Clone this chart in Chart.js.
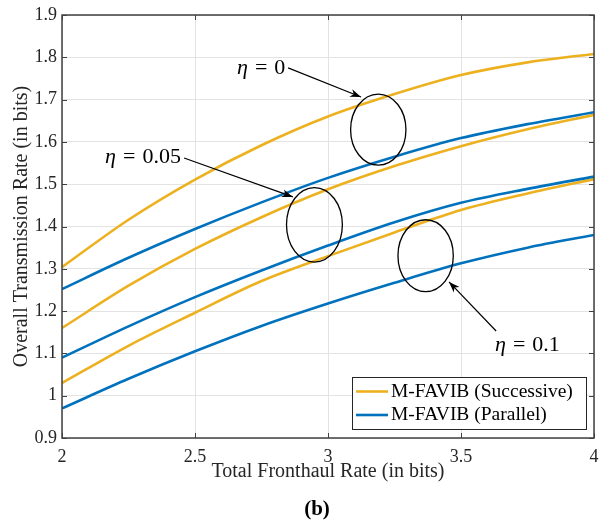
<!DOCTYPE html>
<html>
<head>
<meta charset="utf-8">
<script src="https://cdn.jsdelivr.net/npm/chart.js@4.4.0/dist/chart.umd.min.js"></script>
<style>
  html, body { margin: 0; padding: 0; background: #fff; }
  #wrap { width: 603px; height: 522px; }
</style>
</head>
<body>
<div id="wrap"><canvas id="myChart" width="603" height="522"></canvas></div>
<script>
// x values (total fronthaul rate)
const fronthaul = [2, 2.25, 2.5, 2.75, 3, 3.25, 3.5, 3.75, 4];

// successive (orange) / parallel (blue), one array per eta
const succEta0   = [1.304, 1.416, 1.511, 1.592, 1.660, 1.713, 1.758, 1.788, 1.808];
const parEta0    = [1.252, 1.326, 1.394, 1.457, 1.515, 1.565, 1.609, 1.642, 1.670];
const succEta005 = [1.160, 1.260, 1.347, 1.422, 1.488, 1.543, 1.590, 1.630, 1.664];
const parEta005  = [1.090, 1.164, 1.233, 1.296, 1.355, 1.410, 1.456, 1.489, 1.518];
const succEta01  = [1.030, 1.118, 1.196, 1.271, 1.330, 1.386, 1.439, 1.478, 1.512];
const parEta01   = [0.970, 1.040, 1.105, 1.165, 1.218, 1.267, 1.313, 1.350, 1.380];

const xTicks = [2, 2.5, 3, 3.5, 4];
const yTicks = [0.9, 1, 1.1, 1.2, 1.3, 1.4, 1.5, 1.6, 1.7, 1.8, 1.9];
const legendLabels = ["M-FAVIB (Successive)", "M-FAVIB (Parallel)"];

const ORANGE = "#EDB120";
const BLUE = "#0072BD";
const SERIF = "'Liberation Serif', 'DejaVu Serif', serif";

// annotation callouts, in data units
const ellipses = [
  { x: 3.189, y: 1.629, rx: 0.104, ry: 0.084 },
  { x: 2.949, y: 1.404, rx: 0.105, ry: 0.088 },
  { x: 3.367, y: 1.331, rx: 0.104, ry: 0.085 },
];
const callouts = [
  { num: "0",    tx: 2.658, ty: 1.775, from: [2.850, 1.775], to: [3.124, 1.706] },
  { num: "0.05", tx: 2.162, ty: 1.564, from: [2.459, 1.562], to: [2.868, 1.470] },
  { num: "0.1",  tx: 3.628, ty: 1.120, from: [3.632, 1.153], to: [3.455, 1.269] },
];

function line(data, color, label) {
  return {
    label: label,
    data: data.map((v, i) => ({ x: fronthaul[i], y: v })),
    borderColor: color,
    backgroundColor: color,
    borderWidth: 2.6,
    pointRadius: 0,
    cubicInterpolationMode: "monotone",
    fill: false,
  };
}

function arrowHead(ctx, x0, y0, x1, y1) {
  const a = Math.atan2(y1 - y0, x1 - x0);
  const len = 11, half = 4;
  ctx.save();
  ctx.translate(x1, y1);
  ctx.rotate(a);
  ctx.beginPath();
  ctx.moveTo(0, 0);
  ctx.lineTo(-len, -half);
  ctx.lineTo(-len * 0.7, 0);
  ctx.lineTo(-len, half);
  ctx.closePath();
  ctx.fill();
  ctx.restore();
}

const decorations = {
  id: "decorations",
  afterDatasetsDraw(chart) {
    const { ctx, chartArea: ca, scales: { x, y } } = chart;
    ctx.save();

    // box + inward ticks
    ctx.strokeStyle = "#404040";
    ctx.lineWidth = 1.5;
    ctx.strokeRect(ca.left, ca.top, ca.right - ca.left, ca.bottom - ca.top);
    ctx.lineWidth = 1;
    ctx.beginPath();
    xTicks.forEach(v => {
      const px = Math.round(x.getPixelForValue(v)) + 0.5;
      ctx.moveTo(px, ca.bottom); ctx.lineTo(px, ca.bottom - 5);
      ctx.moveTo(px, ca.top); ctx.lineTo(px, ca.top + 5);
    });
    yTicks.forEach(v => {
      const py = Math.round(y.getPixelForValue(v)) + 0.5;
      ctx.moveTo(ca.left, py); ctx.lineTo(ca.left + 5, py);
      ctx.moveTo(ca.right, py); ctx.lineTo(ca.right - 5, py);
    });
    ctx.stroke();

    // ellipses
    ctx.strokeStyle = "#000";
    ctx.lineWidth = 1.3;
    ellipses.forEach(e => {
      const cx = x.getPixelForValue(e.x), cy = y.getPixelForValue(e.y);
      const rx = x.getPixelForValue(e.x + e.rx) - cx;
      const ry = cy - y.getPixelForValue(e.y + e.ry);
      ctx.beginPath();
      ctx.ellipse(cx, cy, rx, ry, 0, 0, Math.PI * 2);
      ctx.stroke();
    });

    // arrows + eta labels
    ctx.fillStyle = "#000";
    callouts.forEach(c => {
      const x0 = x.getPixelForValue(c.from[0]), y0 = y.getPixelForValue(c.from[1]);
      const x1 = x.getPixelForValue(c.to[0]), y1 = y.getPixelForValue(c.to[1]);
      ctx.lineWidth = 1.2;
      ctx.beginPath();
      ctx.moveTo(x0, y0);
      ctx.lineTo(x1, y1);
      ctx.stroke();
      arrowHead(ctx, x0, y0, x1, y1);

      let tx = x.getPixelForValue(c.tx);
      const ty = y.getPixelForValue(c.ty);
      ctx.textBaseline = "middle";
      ctx.textAlign = "left";
      ctx.font = "italic 22px " + SERIF;
      ctx.fillText("η", tx, ty);
      tx += ctx.measureText("η").width + 7;
      ctx.font = "22px " + SERIF;
      ctx.fillText("=", tx, ty);
      tx += ctx.measureText("=").width + 7;
      ctx.fillText(c.num, tx, ty);
    });
    ctx.restore();
  },
  afterDraw(chart) {
    const { ctx, chartArea: ca } = chart;
    ctx.save();
    // legend box inside lower right
    ctx.font = "19.5px " + SERIF;
    const w = 234, h = 52;
    const right = ca.right - 8, bottom = ca.bottom - 9;
    const left = right - w, top = bottom - h;
    ctx.fillStyle = "#fff";
    ctx.fillRect(left, top, w, h);
    ctx.strokeStyle = "#262626";
    ctx.lineWidth = 1;
    ctx.strokeRect(Math.round(left) + 0.5, Math.round(top) + 0.5, w, h);
    const colors = [ORANGE, BLUE];
    legendLabels.forEach((t, i) => {
      const cy = top + 14.5 + i * 23.5;
      ctx.strokeStyle = colors[i];
      ctx.lineWidth = 2.6;
      ctx.beginPath();
      ctx.moveTo(left + 4, cy);
      ctx.lineTo(left + 36, cy);
      ctx.stroke();
      ctx.fillStyle = "#000";
      ctx.textAlign = "left";
      ctx.textBaseline = "middle";
      ctx.fillText(t, left + 39, cy);
    });

    // panel caption
    ctx.font = "bold 21px " + SERIF;
    ctx.textAlign = "center";
    ctx.textBaseline = "middle";
    ctx.fillText("(b)", 317, 510);
    ctx.restore();
  },
};

const ctx = document.getElementById("myChart");
new Chart(ctx, {
  type: "line",
  data: {
    datasets: [
      line(succEta0, ORANGE, legendLabels[0]),
      line(parEta0, BLUE, legendLabels[1]),
      line(succEta005, ORANGE, legendLabels[0]),
      line(parEta005, BLUE, legendLabels[1]),
      line(succEta01, ORANGE, legendLabels[0]),
      line(parEta01, BLUE, legendLabels[1]),
    ],
  },
  plugins: [decorations],
  options: {
    responsive: false,
    devicePixelRatio: 1,
    animation: false,
    layout: { padding: { top: 15, right: 9, left: 0, bottom: 0 } },
    plugins: {
      legend: { display: false },
      tooltip: { enabled: false },
    },
    scales: {
      x: {
        type: "linear",
        min: 2,
        max: 4,
        afterBuildTicks: s => { s.ticks = xTicks.map(v => ({ value: v })); },
        afterFit: s => { s.height = 84; s.paddingLeft = 0; s.paddingRight = 0; },
        grid: { color: "#e3e3e3", lineWidth: 1, drawTicks: false },
        border: { display: false },
        ticks: {
          color: "#262626",
          padding: 8,
          maxRotation: 0,
          font: { family: SERIF, size: 18 },
          callback: v => String(v),
        },
        title: {
          display: true,
          text: "Total Fronthaul Rate (in bits)",
          color: "#262626",
          font: { family: SERIF, size: 20 },
          padding: { top: 0, bottom: 38 },
        },
      },
      y: {
        type: "linear",
        min: 0.9,
        max: 1.9,
        afterBuildTicks: s => { s.ticks = yTicks.map(v => ({ value: v })); },
        afterFit: s => { s.width = 62; s.paddingTop = 0; s.paddingBottom = 0; },
        grid: { color: "#e3e3e3", lineWidth: 1, drawTicks: false },
        border: { display: false },
        ticks: {
          color: "#262626",
          padding: 5,
          font: { family: SERIF, size: 18 },
          callback: v => String(Number(v.toFixed(1))),
        },
        title: {
          display: true,
          text: "Overall Transmission Rate (in bits)",
          color: "#262626",
          font: { family: SERIF, size: 20 },
          padding: { top: 10, bottom: 0 },
        },
      },
    },
  },
});
</script>
</body>
</html>
